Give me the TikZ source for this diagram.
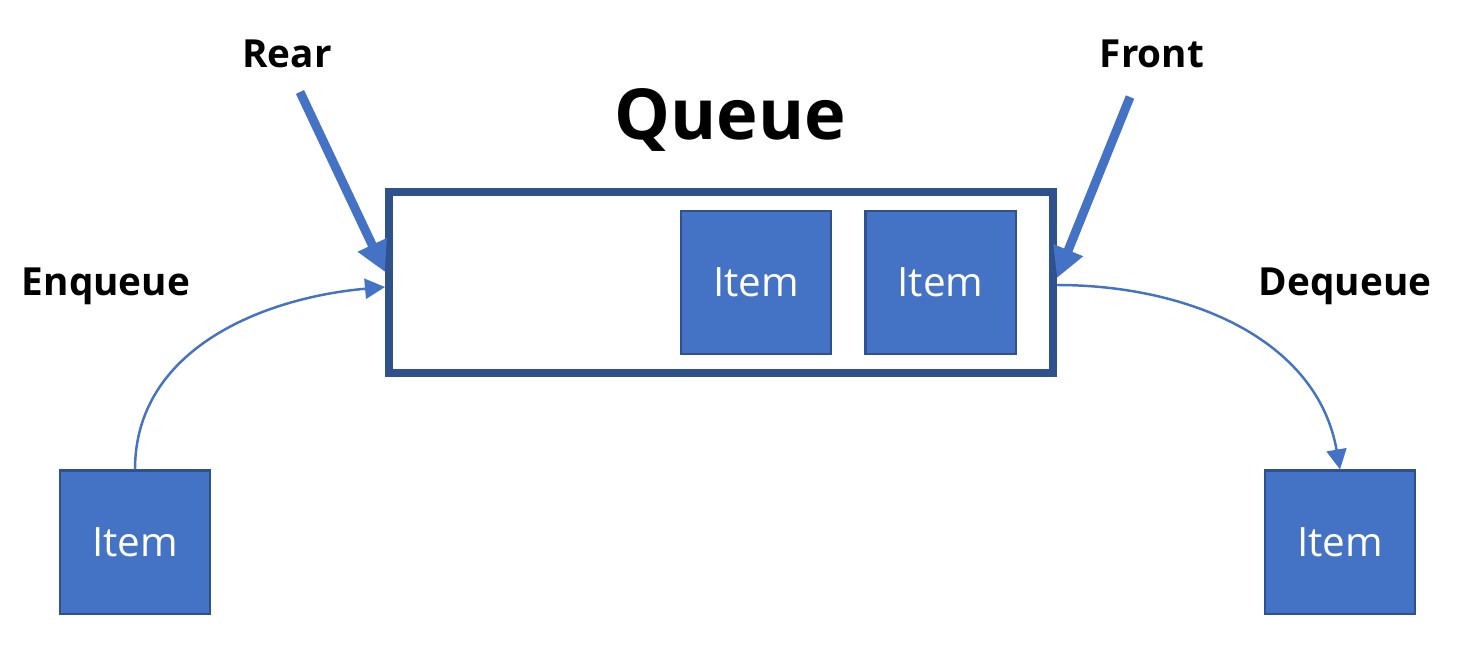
\documentclass[tikz,border=0pt]{standalone}
\usepackage{fontspec}
\setmainfont{Open Sans}
\usetikzlibrary{arrows.meta}
\definecolor{itemblue}{HTML}{4472C4}
\definecolor{darkblue}{HTML}{2F528F}
\tikzset{
  itembox/.style={rectangle,draw=darkblue,line width=0.6pt,fill=itemblue,text=white,
    minimum width=1.5cm,minimum height=1.43cm,font=\fontsize{11.5}{13}\selectfont},
  tagtext/.style={font=\fontsize{11}{13}\selectfont\bfseries},
  pointer/.style={itemblue,line width=0.09cm,-{Triangle[length=0.3cm,width=0.3cm]}},
  flow/.style={itemblue,line width=0.7pt,-{Triangle[length=0.2cm,width=0.2cm]}}
}
\begin{document}
\begin{tikzpicture}[x=0.01cm,y=-0.01cm]
			\useasboundingbox (0,0) rectangle (1470,660);
			\node[draw=darkblue,line width=0.08cm,minimum width=6.64cm,minimum height=1.81cm] (queue) at (721,282.5) {};
			\node[itembox] (itemA) at (756,282.5) {Item};
			\node[itembox] (itemB) at (940.5,282.5) {Item};
			\node[itembox] (itemIn) at (135,542) {Item};
			\node[itembox] (itemOut) at (1340,542) {Item};
			\node[font=\fontsize{20}{24}\selectfont\bfseries] (title) at (730,120) {Queue};
			\node[tagtext] (rear) at (287,54) {Rear};
			\node[tagtext] (front) at (1152,54) {Front};
			\node[tagtext] (enq) at (106,286) {Enqueue};
			\node[tagtext] (deq) at (1345,286) {Dequeue};
			\coordinate (rearTail) at (300,92);
			\coordinate (rearTip) at (385,272);
			\coordinate (frontTail) at (1130,97);
			\coordinate (frontTip) at (1057,278);
			\coordinate (inTip) at (385,287);
			\coordinate (outStart) at (1057,285);
			\draw[pointer] (rearTail)--(rearTip);
			\draw[pointer] (frontTail)--(frontTip);
			\draw[flow] (itemIn.north) to [out=90, in=185] (inTip);
			\draw[flow] (outStart) to [out=0, in=100] (itemOut.north);
		\end{tikzpicture}
\end{document}
